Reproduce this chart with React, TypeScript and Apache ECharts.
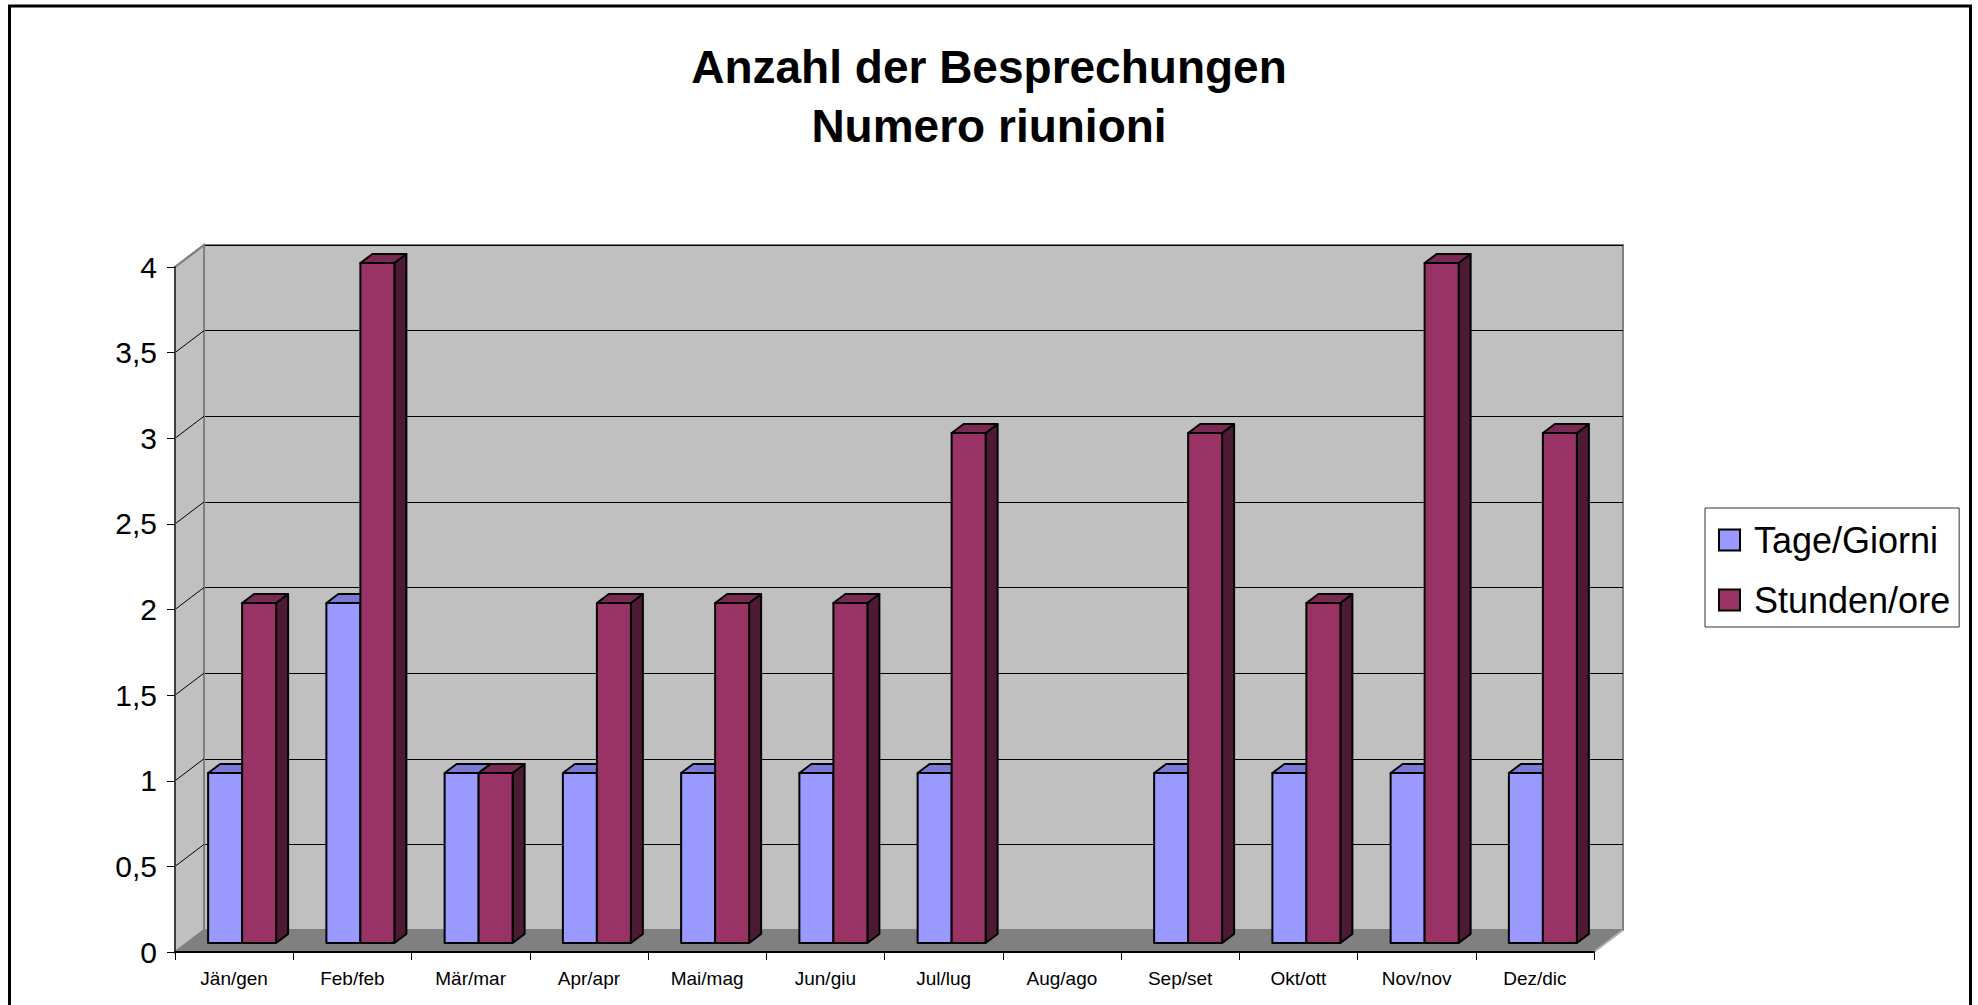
import React, { useEffect, useRef } from 'react';
import * as echarts from 'echarts';

const titleLines = ['Anzahl der Besprechungen', 'Numero riunioni'];
const categories = ['Jän/gen', 'Feb/feb', 'Mär/mar', 'Apr/apr', 'Mai/mag', 'Jun/giu', 'Jul/lug', 'Aug/ago', 'Sep/set', 'Okt/ott', 'Nov/nov', 'Dez/dic'];
const seriesNames = ['Tage/Giorni', 'Stunden/ore'];
const tage: (number | null)[] = [1, 2, 1, 1, 1, 1, 1, null, 1, 1, 1, 1];
const stunden: (number | null)[] = [2, 4, 1, 2, 2, 2, 3, null, 3, 2, 4, 3];
const yTickLabels = ['0', '0,5', '1', '1,5', '2', '2,5', '3', '3,5', '4'];

const Y_MIN = 0;
const Y_MAX = 4;
const Y_STEP = 0.5;

// 3D look constants (styling)
const WALL_DX = 29;
const WALL_DY = 22;
const BAR_SHIFT_X = 8;
const BAR_SHIFT_Y = 9;
const BAR_DX = 12;
const BAR_DY = 9;
const BAR_FRAC = 0.2875;
const BAR_DEPTH_SCALE = 0.9927; // perspective shrink at the bars' depth

const FONT = "'Liberation Sans', Arial, sans-serif";

const COLORS = [
  { front: '#9999ff', top: '#7b7bd6', side: '#4d4d80' },
  { front: '#993366', top: '#7a2952', side: '#4d1a33' },
];

export default function App() {
  const ref = useRef<HTMLDivElement>(null);

  useEffect(() => {
    if (!ref.current) return;
    const chart = echarts.init(ref.current, null, { renderer: 'svg' });

    const wallsRender = (params: any, api: any) => {
      const cs = params.coordSys;
      const x0 = cs.x;
      const x1 = cs.x + cs.width;
      const yT = cs.y;
      const yB = cs.y + cs.height;
      const children: any[] = [];
      children.push({
        type: 'polygon',
        shape: { points: [[x0, yT], [x0 + WALL_DX, yT - WALL_DY], [x0 + WALL_DX, yB - WALL_DY], [x0, yB]] },
        style: { fill: '#c0c0c0', stroke: '#808080', lineWidth: 2 },
      });
      yTickLabels.forEach((_, k) => {
        const v = Y_MIN + k * Y_STEP;
        if (v <= Y_MIN || v >= Y_MAX) return;
        const y = api.coord([0, v])[1];
        children.push({
          type: 'line',
          shape: { x1: x0, y1: y, x2: x0 + WALL_DX, y2: y - WALL_DY },
          style: { stroke: '#000', lineWidth: 1 },
        });
      });
      children.push({
        type: 'polygon',
        shape: { points: [[x0, yB], [x1, yB], [x1 + WALL_DX, yB - WALL_DY], [x0 + WALL_DX, yB - WALL_DY]] },
        style: { fill: '#808080', stroke: 'none' },
      });
      children.push({
        type: 'line',
        shape: { x1: x1, y1: yB, x2: x1 + WALL_DX, y2: yB - WALL_DY },
        style: { stroke: '#b0b0b0', lineWidth: 2 },
      });
      children.push({
        type: 'line',
        shape: { x1: x0, y1: yT, x2: x0 + WALL_DX, y2: yT - WALL_DY },
        style: { stroke: '#808080', lineWidth: 2 },
      });
      return { type: 'group', children };
    };

    const makeBarRender = (s: number) => (params: any, api: any) => {
      const i = api.value(0);
      const v = api.value(1);
      if (v == null || isNaN(v)) return null;
      const base = api.coord([i, 0]);
      const topP = api.coord([i, v]);
      const band = api.size([1, 0])[0];
      const w = band * BAR_FRAC;
      const cx = base[0] + BAR_SHIFT_X;
      const xl = s === 0 ? cx - w : cx;
      const xr = xl + w;
      const yb = base[1] - BAR_SHIFT_Y;
      const yt = yb - (base[1] - topP[1]) * BAR_DEPTH_SCALE;
      const c = COLORS[s];
      const stroke = { stroke: '#000', lineWidth: 2, lineJoin: 'round' };
      return {
        type: 'group',
        children: [
          {
            type: 'polygon',
            shape: { points: [[xr, yt], [xr + BAR_DX, yt - BAR_DY], [xr + BAR_DX, yb - BAR_DY], [xr, yb]] },
            style: { fill: c.side, ...stroke },
          },
          {
            type: 'polygon',
            shape: { points: [[xl, yt], [xr, yt], [xr + BAR_DX, yt - BAR_DY], [xl + BAR_DX, yt - BAR_DY]] },
            style: { fill: c.top, ...stroke },
          },
          {
            type: 'rect',
            shape: { x: xl, y: yt, width: w, height: yb - yt },
            style: { fill: c.front, ...stroke },
          },
        ],
      };
    };

    const yFormatter = (val: number) => {
      const k = Math.round((val - Y_MIN) / Y_STEP);
      return yTickLabels[k] ?? '';
    };

    const option: any = {
      animation: false,
      backgroundColor: '#ffffff',
      title: {
        text: titleLines.join('\n'),
        left: 'center',
        top: 37,
        padding: 0,
        textStyle: { fontFamily: FONT, fontSize: 46, fontWeight: 'bold', color: '#000', lineHeight: 59 },
      },
      legend: {
        data: seriesNames,
        orient: 'vertical',
        left: 1705,
        top: 508,
        padding: [12, 9, 7, 13],
        itemGap: 20,
        itemWidth: 21,
        itemHeight: 21,
        icon: 'rect',
        borderColor: '#333',
        borderWidth: 1,
        backgroundColor: '#fff',
        itemStyle: { borderColor: '#000', borderWidth: 2 },
        textStyle: { fontFamily: FONT, fontSize: 36, color: '#000', lineHeight: 40, padding: [0, 0, 0, 9] },
      },
      grid: [
        { left: 204, top: 245, width: 1419, height: 685, show: true, backgroundColor: '#c0c0c0', borderColor: '#808080', borderWidth: 2 },
        { left: 175, top: 267, width: 1419, height: 685, show: false },
      ],
      xAxis: [
        { type: 'category', gridIndex: 0, data: categories, show: false },
        {
          type: 'category',
          gridIndex: 1,
          data: categories,
          z: 5,
          axisLine: { show: true, lineStyle: { color: '#000', width: 2 } },
          axisTick: { show: true, length: 8, lineStyle: { color: '#000', width: 1 } },
          axisLabel: { interval: 0, margin: 17, fontFamily: FONT, fontSize: 19, color: '#000' },
          splitLine: { show: false },
        },
      ],
      yAxis: [
        {
          type: 'value',
          gridIndex: 0,
          min: Y_MIN,
          max: Y_MAX,
          interval: Y_STEP,
          axisLine: { show: false },
          axisTick: { show: false },
          axisLabel: { show: false },
          splitLine: { show: true, lineStyle: { color: '#000', width: 1 } },
        },
        {
          type: 'value',
          gridIndex: 1,
          min: Y_MIN,
          max: Y_MAX,
          interval: Y_STEP,
          z: 5,
          axisLine: { show: true, lineStyle: { color: '#404040', width: 2 } },
          axisTick: { show: true, length: 8, lineStyle: { color: '#000', width: 1 } },
          axisLabel: { margin: 18, fontFamily: FONT, fontSize: 30, color: '#000', formatter: yFormatter },
          splitLine: { show: false },
        },
      ],
      series: [
        {
          type: 'custom',
          name: 'walls',
          xAxisIndex: 1,
          yAxisIndex: 1,
          clip: false,
          silent: true,
          z: 1,
          renderItem: wallsRender,
          data: [[0, 0]],
        },
        {
          type: 'custom',
          name: seriesNames[0],
          xAxisIndex: 1,
          yAxisIndex: 1,
          clip: false,
          z: 3,
          itemStyle: { color: COLORS[0].front, borderColor: '#000', borderWidth: 2 },
          renderItem: makeBarRender(0),
          data: tage.map((v, i) => [i, v]),
        },
        {
          type: 'custom',
          name: seriesNames[1],
          xAxisIndex: 1,
          yAxisIndex: 1,
          clip: false,
          z: 4,
          itemStyle: { color: COLORS[1].front, borderColor: '#000', borderWidth: 2 },
          renderItem: makeBarRender(1),
          data: stunden.map((v, i) => [i, v]),
        },
      ],
      graphic: [
        {
          type: 'rect',
          silent: true,
          z: 100,
          shape: { x: 9.5, y: 6, width: 1961, height: 1010 },
          style: { fill: 'none', stroke: '#000', lineWidth: 3 },
        },
      ],
    };

    chart.setOption(option);
    return () => chart.dispose();
  }, []);

  return (
    <div
      ref={ref}
      style={{ position: 'fixed', left: 0, top: 0, width: 1978, height: 1005, background: '#fff' }}
    />
  );
}
